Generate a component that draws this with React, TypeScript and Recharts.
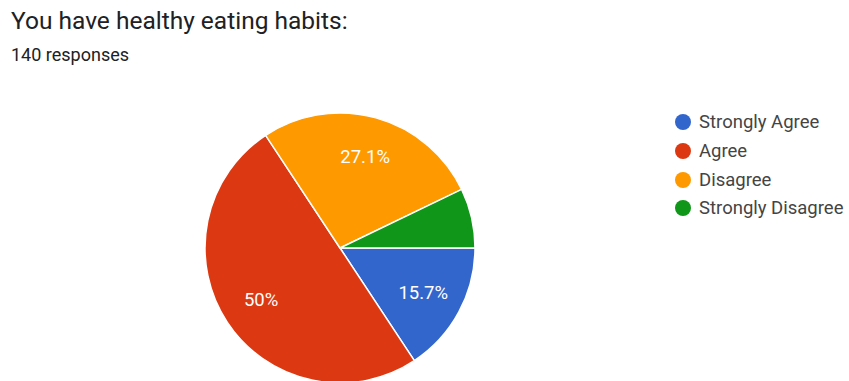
import { Cell, Legend, Pie, PieChart } from "recharts";

const categories = ["Strongly Agree", "Agree", "Disagree", "Strongly Disagree"];
const counts = [22, 70, 38, 10];
const colors = ["#3366cc", "#dc3912", "#ff9900", "#109618"];

const TITLE = "You have healthy eating habits:";
const SUBTITLE = "140 responses";

const data = categories.map((name, i) => ({ name, value: counts[i] }));
const total = counts.reduce((a, b) => a + b, 0);

const RADIAN = Math.PI / 180;

const renderLabel = ({ cx, cy, midAngle, outerRadius, value }: any) => {
  const pct = (value / total) * 100;
  // google hides labels on tiny slices
  if (pct < 10) return null;
  const r = outerRadius * 0.7;
  const x = cx + r * Math.cos(-midAngle * RADIAN);
  const y = cy + r * Math.sin(-midAngle * RADIAN);
  const text = Number.isInteger(pct) ? `${pct}%` : `${pct.toFixed(1)}%`;
  return (
    <text
      x={x}
      y={y}
      fill="#ffffff"
      fontSize={18.5}
      textAnchor="middle"
      dominantBaseline="central"
    >
      {text}
    </text>
  );
};

// legend follows data order, not alphabetical
const LegendContent = () => (
  <div>
    {categories.map((name, i) => (
      <div
        key={name}
        style={{ display: "flex", alignItems: "center", height: 28.7 }}
      >
        <span
          style={{
            width: 16,
            height: 16,
            borderRadius: "50%",
            background: colors[i],
            marginRight: 8,
            flexShrink: 0,
          }}
        />
        <span style={{ fontSize: 18.5, color: "#444444", whiteSpace: "nowrap" }}>
          {name}
        </span>
      </div>
    ))}
  </div>
);

const App = () => {
  return (
    <div
      style={{
        position: "absolute",
        left: 0,
        top: 0,
        width: 849,
        height: 381,
        background: "#ffffff",
        fontFamily: "Roboto, sans-serif",
        overflow: "hidden",
      }}
    >
      <div
        style={{
          position: "absolute",
          left: 11,
          top: 6,
          fontSize: 24.5,
          color: "#202124",
          whiteSpace: "nowrap",
        }}
      >
        {TITLE}
      </div>
      <div
        style={{
          position: "absolute",
          left: 11,
          top: 44,
          fontSize: 18,
          color: "#202124",
          whiteSpace: "nowrap",
        }}
      >
        {SUBTITLE}
      </div>
      <PieChart
        width={849}
        height={381}
        margin={{ top: 0, right: 0, bottom: 0, left: 0 }}
        style={{ position: "absolute", left: 0, top: 0 }}
      >
        <Pie
          data={data}
          dataKey="value"
          nameKey="name"
          cx={340}
          cy={248}
          outerRadius={135}
          startAngle={0}
          endAngle={-360}
          stroke="#ffffff"
          strokeWidth={1.5}
          label={renderLabel}
          labelLine={false}
          isAnimationActive={false}
        >
          {data.map((d, i) => (
            <Cell key={d.name} fill={colors[i]} />
          ))}
        </Pie>
        <Legend
          layout="vertical"
          align="right"
          verticalAlign="top"
          content={<LegendContent />}
          wrapperStyle={{ left: 675, top: 108, width: 174 }}
        />
      </PieChart>
    </div>
  );
};

export default App;
